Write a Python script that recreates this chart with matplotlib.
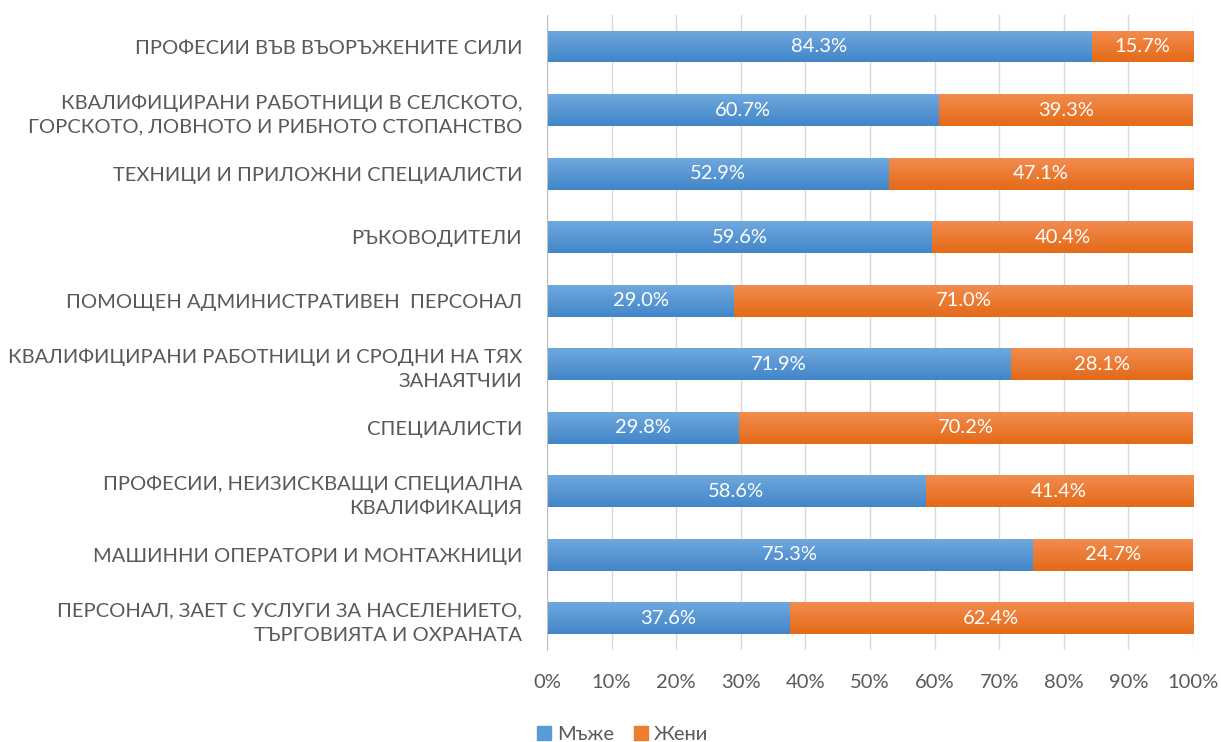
import numpy as np
import matplotlib.pyplot as plt
from matplotlib.colors import LinearSegmentedColormap
from matplotlib.patches import Patch

categories = [
    'ПРОФЕСИИ ВЪВ ВЪОРЪЖЕНИТЕ СИЛИ',
    'КВАЛИФИЦИРАНИ РАБОТНИЦИ В СЕЛСКОТО,\nГОРСКОТО, ЛОВНОТО И РИБНОТО СТОПАНСТВО',
    'ТЕХНИЦИ И ПРИЛОЖНИ СПЕЦИАЛИСТИ',
    'РЪКОВОДИТЕЛИ',
    'ПОМОЩЕН АДМИНИСТРАТИВЕН  ПЕРСОНАЛ',
    'КВАЛИФИЦИРАНИ РАБОТНИЦИ И СРОДНИ НА ТЯХ\nЗАНАЯТЧИИ',
    'СПЕЦИАЛИСТИ',
    'ПРОФЕСИИ, НЕИЗИСКВАЩИ СПЕЦИАЛНА\nКВАЛИФИКАЦИЯ',
    'МАШИННИ ОПЕРАТОРИ И МОНТАЖНИЦИ',
    'ПЕРСОНАЛ, ЗАЕТ С УСЛУГИ ЗА НАСЕЛЕНИЕТО,\nТЪРГОВИЯТА И ОХРАНАТА',
]
men = [84.3, 60.7, 52.9, 59.6, 29.0, 71.9, 29.8, 58.6, 75.3, 37.6]
women = [15.7, 39.3, 47.1, 40.4, 71.0, 28.1, 70.2, 41.4, 24.7, 62.4]
series_names = ['Мъже', 'Жени']

plt.rcParams['font.family'] = ['Lato', 'DejaVu Sans']
grey = '#595959'
fs = 14.5

fig = plt.figure(figsize=(12.21, 7.42), dpi=100)
ax = fig.add_axes([0.448, 0.124, 0.529, 0.856])

y = np.arange(len(categories))
men = np.array(men)
women = np.array(women)

blue_cm = LinearSegmentedColormap.from_list('b', ['#6fa8de', '#4286c9'])
orange_cm = LinearSegmentedColormap.from_list('o', ['#f38c4f', '#e36a17'])

b1 = ax.barh(y, men, height=0.5, color='#5b9bd5', zorder=2)
b2 = ax.barh(y, women, left=men, height=0.5, color='#ed7d31', zorder=2)

# gradient fill, light on top, dark at the bottom
grad = np.linspace(1, 0, 64).reshape(-1, 1)
for bars, cm in ((b1, blue_cm), (b2, orange_cm)):
    for bar in bars:
        x0, yb = bar.get_x(), bar.get_y()
        w, h = bar.get_width(), bar.get_height()
        im = ax.imshow(grad, cmap=cm, aspect='auto', extent=(x0, x0 + w, yb + h, yb),
                       origin='lower', zorder=2.5)
        im.set_clip_path(bar)

for i in range(len(categories)):
    ax.text(men[i] / 2, y[i], f'{men[i]:.1f}%', ha='center', va='center',
            color='white', fontsize=fs, zorder=4)
    ax.text(men[i] + women[i] / 2, y[i], f'{women[i]:.1f}%', ha='center', va='center',
            color='white', fontsize=fs, zorder=4)

ax.set_xlim(0, 100)
ax.set_ylim(len(categories) - 0.5, -0.5)
ax.set_xticks(np.arange(0, 101, 10))
ax.set_xticklabels([f'{v}%' for v in range(0, 101, 10)])
ax.set_yticks(y)
ax.set_yticklabels(categories, linespacing=1.5)
ax.tick_params(axis='both', length=0, colors=grey, labelsize=fs)
ax.tick_params(axis='y', pad=18)
ax.tick_params(axis='x', pad=17)
ax.grid(axis='x', color='#d9d9d9', linewidth=1, zorder=0)
for s in ['top', 'right', 'bottom']:
    ax.spines[s].set_visible(False)
ax.spines['left'].set_color('#bfbfbf')

handles = [Patch(color='#5b9bd5'), Patch(color='#ed7d31')]
fig.legend(handles, series_names, loc='lower center', bbox_to_anchor=(0.51, -0.026),
           ncol=2, frameon=False, fontsize=fs, labelcolor=grey,
           handlelength=0.7, handleheight=0.7, handletextpad=0.3, columnspacing=1.0)

fig.savefig('out.png', dpi=100)
